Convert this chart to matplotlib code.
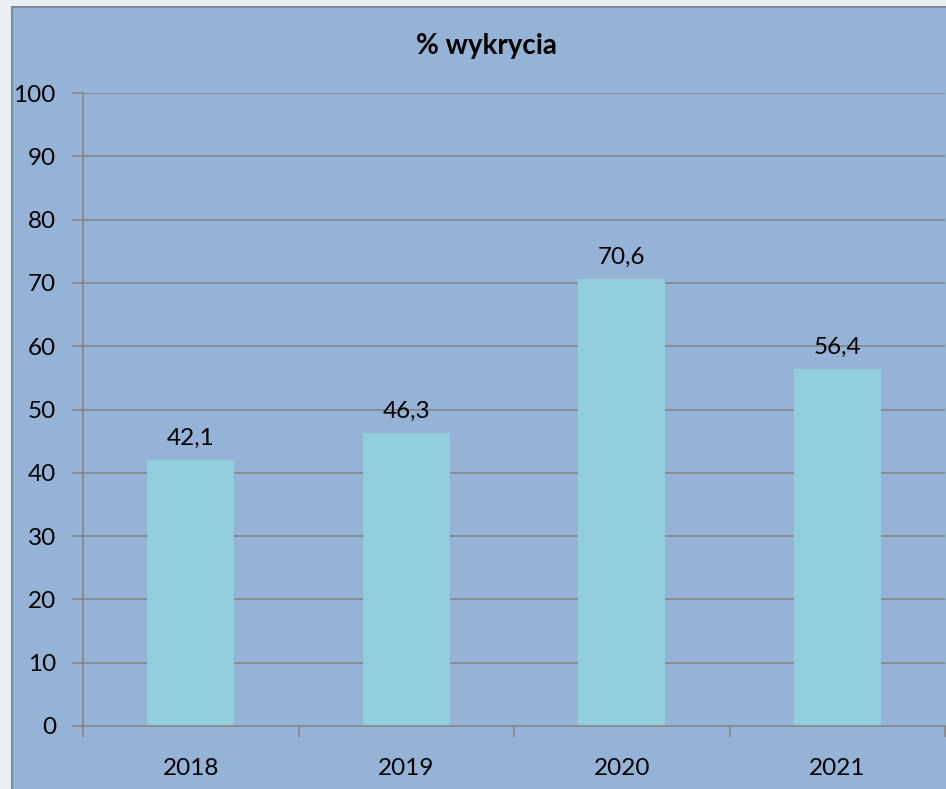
import matplotlib
matplotlib.use("Agg")
import matplotlib.pyplot as plt
from matplotlib.patches import Rectangle
from matplotlib import font_manager

years = ["2018", "2019", "2020", "2021"]
values = [42.1, 46.3, 70.6, 56.4]
yticks = [0, 10, 20, 30, 40, 50, 60, 70, 80, 90, 100]
title = "% wykrycia"

names = {f.name for f in font_manager.fontManager.ttflist}
fam = "Liberation Sans Narrow" if "Liberation Sans Narrow" in names else "Lato"
plt.rcParams['font.family'] = [fam, 'DejaVu Sans']

W, H = 946, 789
fig = plt.figure(figsize=(W / 100, H / 100), dpi=100)
fig.patch.set_facecolor("#eaeff6")

bgax = fig.add_axes([0, 0, 1, 1], zorder=-5)
bgax.set_axis_off()
bgax.set_xlim(0, W)
bgax.set_ylim(H, 0)
bgax.add_patch(Rectangle((12, 7), W + 20, H + 20, facecolor="#95b3d7",
                         edgecolor="#7f8a98", linewidth=1.5))

ax = fig.add_axes([83 / W, (H - 726) / H, (945 - 83) / W, (726 - 93) / H])
ax.set_facecolor("none")
xs = [i + 0.5 for i in range(len(years))]
ax.bar(xs, values, width=0.405, color="#92cddc", zorder=2)
ax.set_xlim(0, len(years))
ax.set_ylim(0, 100)
ax.set_yticks(yticks)
ax.set_yticklabels([str(v) for v in yticks], fontsize=17.5)
ax.set_xticks(range(len(years) + 1))
ax.set_xticklabels([])
ax.set_xticks(xs, minor=True)
ax.set_xticklabels(years, minor=True, fontsize=17.5)
ax.tick_params(axis="x", which="minor", length=0, pad=23)
ax.tick_params(axis="x", which="major", length=8, color="#868686", width=1.2)
ax.tick_params(axis="y", length=8, color="#868686", width=1.2, pad=11.5)
for y in yticks[1:]:
    ax.axhline(y, color="#868686", linewidth=1.2, zorder=1)
for s in ["top", "right"]:
    ax.spines[s].set_visible(False)
for s in ["left", "bottom"]:
    ax.spines[s].set_color("#868686")
    ax.spines[s].set_linewidth(1.2)
for x, v in zip(xs, values):
    ax.annotate(f"{v:.1f}".replace(".", ","), (x, v), xytext=(0, 8),
                textcoords="offset points", ha="center", va="bottom", fontsize=17.5)

fig.text(486 / W, 1 - 46 / H, title, ha="center", va="center",
         fontsize=20, fontweight="bold")

fig.savefig("out.png", dpi=100, facecolor=fig.get_facecolor())
